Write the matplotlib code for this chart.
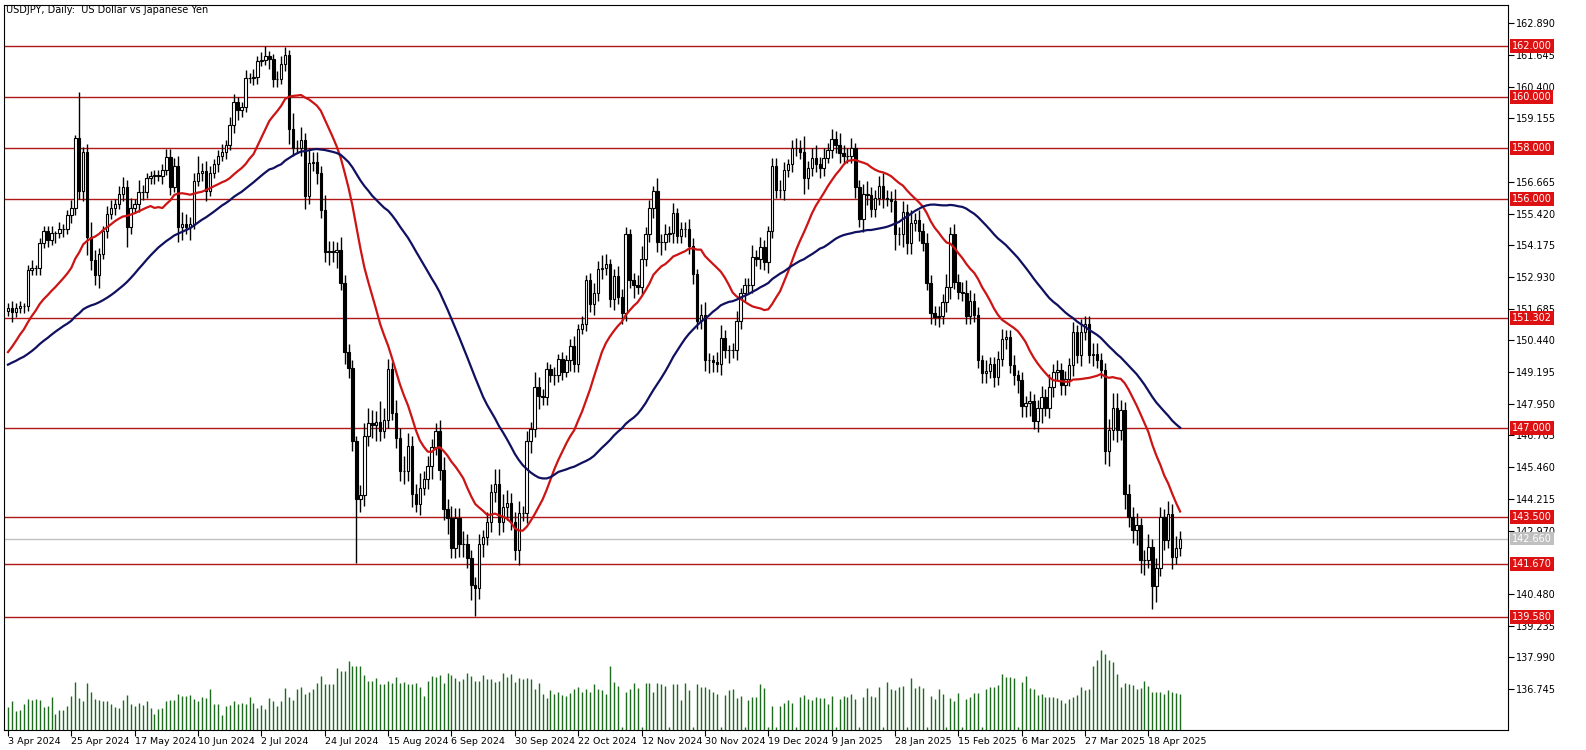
import matplotlib
matplotlib.use("Agg")
import matplotlib.pyplot as plt
import numpy as np
import pandas as pd

# closes before 3 Apr 2024, only used to warm up the moving averages
pre_close = [148.0,147.6,148.1,147.4,148.1,147.9,147.6,146.9,146.9,148.4,
             148.7,148.2,148.7,149.3,149.3,150.6,150.0,149.9,150.2,150.0,
             150.1,150.3,150.5,150.3,150.6,150.7,150.5,150.0,149.9,150.1,
             147.9,147.5,147.1,146.9,147.6,147.7,148.3,149.0,149.1,150.9,
             151.3,151.2,151.6,151.4,151.3,151.6,151.3,151.2,151.3,151.6]

close = [151.7,151.55,151.7,151.8,151.8,153.2,153.3,153.3,154.25,154.75,
         154.4,154.65,154.65,154.8,154.8,155.35,155.65,158.4,156.3,157.85,
         154.5,153.6,153.0,153.85,154.75,155.4,155.65,155.8,156.2,156.45,
         154.9,155.65,155.8,156.25,156.25,156.8,156.9,156.95,156.9,157.15,
         157.65,156.45,157.3,154.9,155.0,154.9,155.0,156.7,157.0,157.1,
         156.3,157.0,157.35,157.7,157.85,158.1,158.9,159.8,159.5,159.6,
         160.75,160.75,160.8,161.4,161.45,161.6,161.5,160.7,160.7,161.3,
         161.65,158.75,158.0,158.0,158.3,156.1,157.4,157.45,157.0,155.55,
         153.9,153.95,153.9,154.0,152.7,150.0,149.35,146.5,144.2,144.35,
         146.7,147.2,147.1,147.25,146.9,147.3,149.3,147.6,146.6,145.3,
         145.3,146.3,144.4,144.0,144.65,145.0,145.5,146.25,146.9,145.35,
         143.8,143.45,142.3,143.45,142.45,142.45,141.9,140.85,140.7,142.45,
         142.7,143.3,144.5,144.8,143.3,143.9,144.05,143.3,142.2,143.65,
         143.65,146.5,146.95,148.6,148.25,148.2,149.3,149.1,149.1,149.7,
         149.2,149.65,150.2,149.5,150.9,151.1,152.8,151.85,152.3,153.25,
         153.3,153.45,152.05,152.95,152.15,151.5,154.6,152.8,152.6,152.55,
         153.65,154.6,155.65,156.3,154.3,154.3,154.6,154.65,155.45,154.55,
         154.8,154.8,154.15,153.05,151.2,151.45,149.65,149.65,149.6,149.5,
         150.55,150.05,150.05,150.05,151.2,152.3,152.6,152.6,153.7,153.65,
         154.1,153.5,154.75,157.3,156.35,156.35,157.15,157.35,158.0,158.0,
         157.85,156.8,157.2,157.6,157.35,157.2,157.6,157.9,158.35,158.1,
         157.8,157.7,157.7,158.0,156.45,155.2,156.2,156.15,155.6,156.05,
         156.5,156.05,156.0,155.9,154.6,154.6,155.5,154.25,155.05,155.15,
         154.75,154.25,152.7,151.5,151.35,151.4,151.95,152.55,154.6,152.75,
         152.35,152.3,151.4,152.0,151.45,149.65,149.15,149.25,149.5,149.0,
         149.72,150.5,150.56,149.46,149.07,148.88,147.85,147.97,148.04,147.26,
         147.78,148.23,147.78,148.62,149.2,149.27,148.69,148.94,149.46,150.76,
         149.85,150.76,151.08,149.85,149.92,149.66,149.27,146.1,146.94,147.78,
         146.94,147.71,144.41,143.5,142.99,143.18,141.82,141.82,142.34,140.78,
         141.5,143.5,142.6,143.63,141.95,142.27,142.66]

wick_up = [0.2,0.3,0.2,0.2,0.1,0.2,0.3,0.1,0.2,0.2,
           0.2,0.3,0.1,0.3,0.2,0.2,0.3,0.1,1.8,0.2,
           0.3,0.6,0.4,0.2,0.2,0.3,0.3,0.2,0.3,0.4,
           0.3,0.4,0.2,0.5,0.3,0.2,0.2,0.2,0.2,0.2,
           0.3,0.3,0.3,0.4,0.5,0.4,0.3,0.3,0.7,0.3,
           0.4,0.3,0.2,0.2,0.3,0.2,0.3,0.3,0.2,0.2,
           0.3,0.2,0.3,0.2,0.3,0.4,0.2,0.2,0.3,0.3,
           0.3,0.2,0.6,0.3,0.5,0.3,0.6,0.4,0.4,0.3,
           0.6,0.4,0.4,0.3,0.5,0.3,0.3,0.3,0.2,0.4,
           0.5,0.6,0.5,0.4,0.8,0.5,0.4,0.3,0.5,0.4,
           0.6,0.5,0.4,0.4,0.6,0.3,0.4,0.3,0.3,0.4,
           0.5,0.4,0.5,0.4,0.4,0.5,0.4,0.3,0.3,0.4,
           0.3,0.4,0.3,0.6,0.6,0.5,0.5,0.4,0.4,0.5,
           0.3,0.4,0.3,0.6,0.4,0.3,0.3,0.2,0.3,0.2,
           0.3,0.2,0.3,0.4,0.2,0.3,0.2,0.3,0.4,0.3,
           0.5,0.4,0.2,0.3,0.4,0.3,0.3,0.2,0.3,0.4,
           0.5,0.3,0.3,0.2,0.5,0.3,0.4,0.3,0.4,0.2,
           0.3,0.3,0.4,0.3,0.2,0.4,0.5,0.3,0.2,0.4,
           0.5,0.3,0.2,0.3,0.4,0.2,0.3,0.3,0.5,0.3,
           0.4,0.3,0.2,0.3,0.3,0.4,0.3,0.2,0.3,0.4,
           0.3,0.6,0.3,0.4,0.5,0.3,0.4,0.3,0.4,0.3,
           0.5,0.3,0.3,0.4,0.2,0.3,0.4,0.5,0.3,0.3,
           0.4,0.5,0.3,0.3,0.5,0.3,0.4,0.3,0.5,0.3,
           0.4,0.3,0.4,0.3,0.3,0.4,0.3,0.5,0.3,0.4,
           0.3,0.4,0.5,0.4,0.3,0.3,0.2,0.4,0.3,0.3,
           0.3,0.4,0.3,0.3,0.4,0.2,0.3,0.3,0.4,0.3,
           0.3,0.4,0.3,0.5,0.3,0.4,0.3,0.3,0.3,0.4,
           0.3,0.5,0.3,0.3,0.4,0.4,0.3,0.3,0.4,0.6,
           0.6,0.4,0.3,0.4,0.4,0.5,0.3,0.4,0.5,0.3,
           0.4,0.4,0.3,0.5,0.4,0.5,0.3]

wick_dn = [0.2,0.4,0.2,0.2,0.3,0.2,0.2,0.3,0.3,0.2,
           0.3,0.2,0.4,0.2,0.3,0.2,0.3,0.3,0.3,0.4,
           0.7,0.4,0.4,0.5,0.2,0.3,0.2,0.3,0.2,0.3,
           0.8,0.3,0.2,0.3,0.3,0.2,0.2,0.3,0.2,0.3,
           0.2,0.3,0.2,0.6,0.5,0.3,0.5,0.2,0.2,0.3,
           0.4,0.2,0.2,0.3,0.2,0.3,0.2,0.3,0.4,0.3,
           0.2,0.2,0.3,0.3,0.2,0.2,0.4,0.3,0.3,0.2,
           0.3,0.6,0.3,0.2,0.3,0.5,0.3,0.3,0.4,0.3,
           0.4,0.5,0.4,0.6,0.3,0.5,0.4,0.4,2.5,0.5,
           0.4,0.4,0.5,0.6,0.4,0.3,0.3,0.3,0.4,0.4,
           0.5,0.4,0.5,0.3,0.4,0.3,0.4,0.5,0.3,0.4,
           0.4,0.6,0.4,0.4,0.5,0.5,0.4,0.6,1.1,0.4,
           0.5,0.3,0.4,0.4,0.5,0.4,0.5,0.3,0.4,0.6,
           0.3,0.4,0.5,0.3,0.5,0.3,0.3,0.3,0.4,0.3,
           0.3,0.2,0.4,0.3,0.3,0.2,0.3,0.3,0.4,0.3,
           0.4,0.3,0.3,0.4,0.3,0.4,0.3,0.3,0.5,0.3,
           0.3,0.3,0.3,0.4,0.4,0.5,0.3,0.3,0.4,0.3,
           0.3,0.3,0.3,0.4,0.3,0.3,0.4,0.5,0.4,0.3,
           0.4,0.3,0.5,0.3,0.4,0.3,0.3,0.3,0.3,0.3,
           0.4,0.3,0.4,0.3,0.3,0.3,0.4,0.3,0.3,0.3,
           0.3,0.6,0.4,0.3,0.3,0.4,0.3,0.2,0.3,0.3,
           0.4,0.3,0.3,0.3,0.4,0.3,0.5,0.4,0.3,0.3,
           0.3,0.4,0.3,0.4,0.6,0.4,0.5,0.4,0.4,0.3,
           0.4,0.3,0.3,0.4,0.3,0.4,0.3,0.4,0.5,0.3,
           0.3,0.3,0.3,0.3,0.3,0.3,0.4,0.4,0.3,0.4,
           0.3,0.3,0.4,0.3,0.4,0.5,0.4,0.4,0.5,0.3,
           0.4,0.6,0.3,0.4,0.4,0.3,0.4,0.4,0.3,0.4,
           0.3,0.4,0.3,0.3,0.4,0.3,0.3,0.5,0.6,0.4,
           0.5,0.4,0.6,0.4,0.5,0.6,0.5,0.6,0.3,0.9,
           0.6,0.3,0.4,0.3,0.5,0.3,0.3]

volume = [21,26,17,18,24,28,27,28,27,21,22,30,15,18,18,22,31,44,29,26,
          43,35,28,27,26,26,24,21,20,27,32,24,22,25,23,26,20,15,19,20,
          26,27,27,33,31,31,32,28,26,30,29,37,24,24,14,22,23,26,24,25,
          24,30,25,20,23,19,29,26,22,26,38,30,27,37,39,33,35,37,43,49,
          42,42,42,56,54,54,63,58,58,58,50,45,45,47,42,42,45,43,48,43,
          44,42,42,43,39,31,45,49,48,50,43,52,50,47,45,46,52,49,45,45,
          50,46,46,44,45,52,48,51,44,47,46,47,46,37,43,33,29,36,33,35,
          32,31,34,37,39,35,37,35,42,37,36,33,58,44,40,3,35,37,43,38,
          3,43,43,35,43,42,40,3,42,42,27,43,36,3,42,39,39,37,35,33,
          3,32,36,37,29,31,3,27,30,30,42,38,3,22,3,22,25,27,25,3,
          30,32,28,27,30,29,29,24,31,3,28,31,30,33,28,3,30,38,31,30,
          39,3,44,37,36,39,40,3,47,38,40,38,3,31,28,37,33,3,29,26,
          34,3,28,30,34,34,3,37,39,39,41,51,48,48,47,3,44,49,38,37,
          32,33,30,30,30,29,27,25,28,30,32,39,36,37,58,64,73,69,64,62,
          51,39,43,42,41,37,38,45,40,35,35,35,33,36,35,34,33]

levels = [162.000, 160.000, 158.000, 156.000, 151.302, 147.000, 143.500, 141.670, 139.580]
price_ticks = [162.890, 161.645, 160.400, 159.155, 156.665, 155.420, 154.175, 152.930,
               151.685, 150.440, 149.195, 147.950, 146.705, 145.460, 144.215, 142.970,
               140.480, 139.235, 137.990, 136.745]
date_labels = ['3 Apr 2024', '25 Apr 2024', '17 May 2024', '10 Jun 2024', '2 Jul 2024',
               '24 Jul 2024', '15 Aug 2024', '6 Sep 2024', '30 Sep 2024', '22 Oct 2024',
               '12 Nov 2024', '30 Nov 2024', '19 Dec 2024', '9 Jan 2025', '28 Jan 2025',
               '15 Feb 2025', '6 Mar 2025', '27 Mar 2025', '18 Apr 2025']

n = len(close)
allc = pd.Series(pre_close + close)
ma_fast = allc.rolling(20).mean().values[len(pre_close):]
ma_slow = allc.rolling(50).mean().values[len(pre_close):]

c = np.array(close)
o = np.array([pre_close[-1]] + close[:-1])
hi = np.maximum(o, c) + np.array(wick_up)
lo = np.minimum(o, c) - np.array(wick_dn)
x = np.arange(n)

W, H = 1586, 750
fig = plt.figure(figsize=(W / 100, H / 100), dpi=100)
ax = fig.add_axes([4 / W, 20 / H, 1504 / W, 725 / H])
ax.set_xlim(-1, 1504 / 3.96 - 1)
ax.set_ylim(135.14, 163.61)

for lv in levels:
    ax.axhline(lv, color='#b01818', lw=1.0, zorder=1)
ax.axhline(close[-1], color='#c0c0c0', lw=1.0, zorder=1)

# volume on its own scale, roughly in pixel heights
axv = ax.twinx()
axv.set_ylim(0, 660)
axv.vlines(np.arange(len(volume)), 0, volume, color='#1d6b1d', lw=1.0)
axv.set_yticks([])
axv.set_xlim(ax.get_xlim())

ax.vlines(x, lo, hi, color='black', lw=1.0, zorder=3)
up = c >= o
ax.bar(x[up], (c - o)[up], bottom=o[up], width=0.62, color='white',
       edgecolor='black', lw=0.8, zorder=4)
ax.bar(x[~up], (o - c)[~up], bottom=c[~up], width=0.62, color='black',
       edgecolor='black', lw=0.8, zorder=4)

ax.plot(x, ma_fast, color='#cc1414', lw=1.6, zorder=5)
ax.plot(x, ma_slow, color='#101060', lw=1.6, zorder=5)

ax.yaxis.tick_right()
ax.set_yticks(price_ticks)
ax.set_yticklabels(['%.3f' % t for t in price_ticks])
ax.tick_params(axis='y', direction='out', length=4, labelsize=7, pad=2)
ax.set_xticks(np.arange(len(date_labels)) * 16)
ax.set_xticklabels(date_labels, ha='left')
ax.tick_params(axis='x', direction='out', length=4, labelsize=6.8, pad=1)
for s in ax.spines.values():
    s.set_color('black')
for s in axv.spines.values():
    s.set_visible(False)

for lv in levels:
    ax.text(1.0025, lv, '%.3f' % lv, transform=ax.get_yaxis_transform(),
            va='center', ha='left', fontsize=7, color='white', zorder=10,
            bbox=dict(boxstyle='square,pad=0.2', fc='#dd1111', ec='none'), clip_on=False)
ax.text(1.0025, close[-1], '%.3f' % close[-1], transform=ax.get_yaxis_transform(),
        va='center', ha='left', fontsize=7, color='white', zorder=10,
        bbox=dict(boxstyle='square,pad=0.2', fc='#c0c0c0', ec='none'), clip_on=False)

fig.text(6 / W, 1 - 10 / H, 'USDJPY, Daily:  US Dollar vs Japanese Yen', fontsize=7,
         va='center', ha='left')

fig.savefig('out.png', dpi=100)
